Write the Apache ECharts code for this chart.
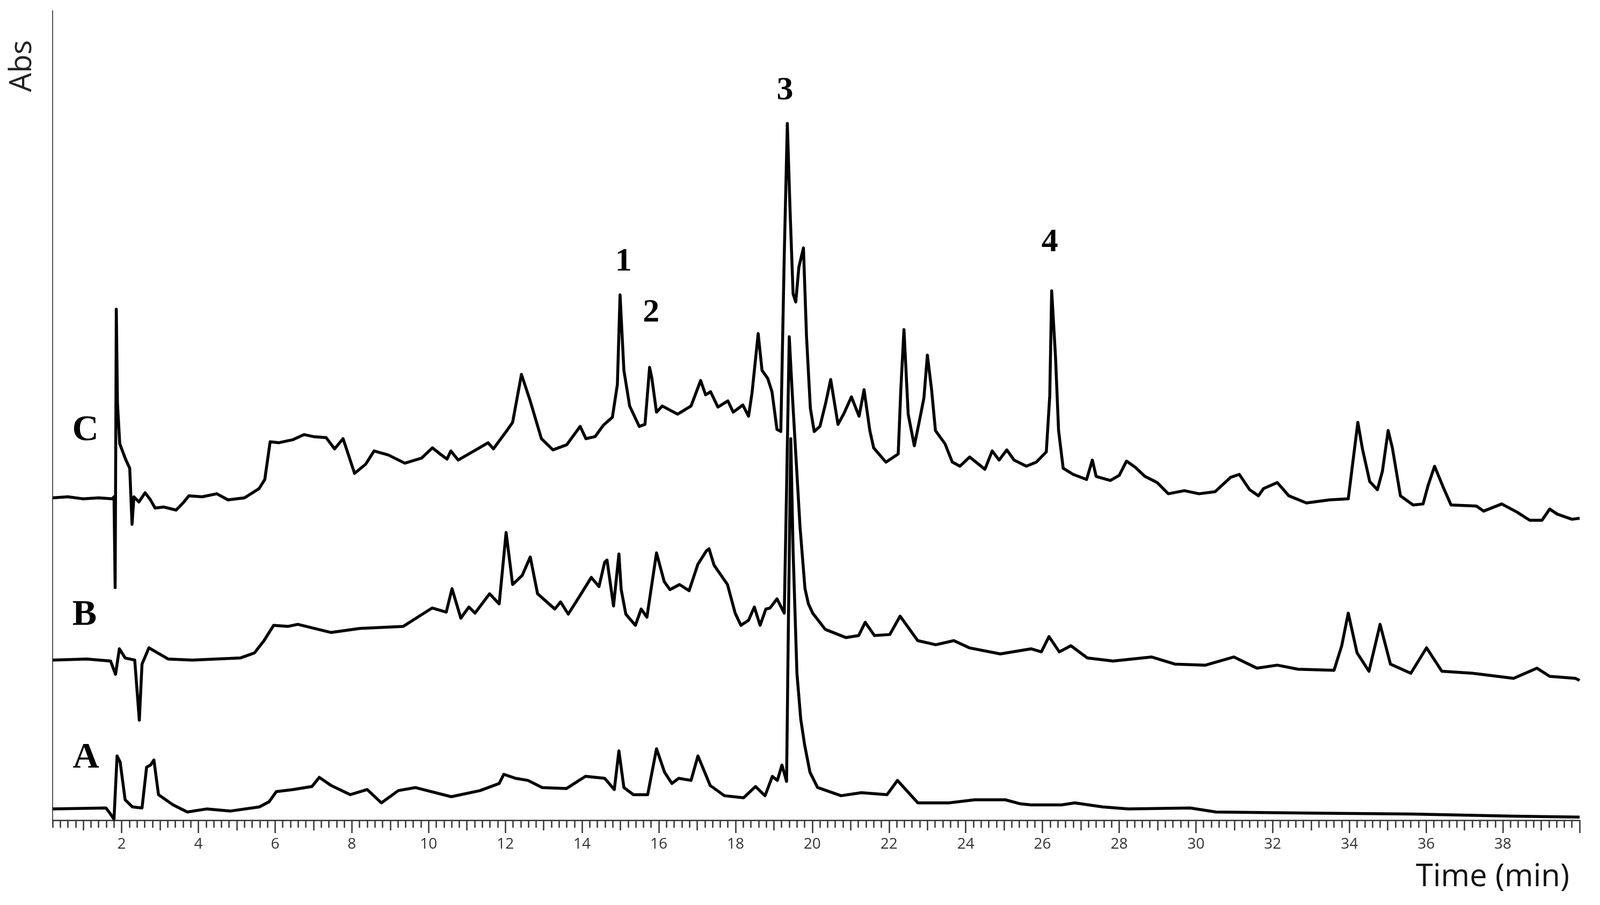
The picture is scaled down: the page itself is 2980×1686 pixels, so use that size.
<!DOCTYPE html>
<html>
<head>
<meta charset="utf-8">
<script src="https://cdn.jsdelivr.net/npm/echarts@6/dist/echarts.min.js"></script>
<style>
html,body{margin:0;padding:0;background:#fff;}
#chart{width:2980px;height:1686px;}
</style>
</head>
<body>
<div id="chart"></div>
<script>
// ---- Data: retention time (min), absorbance (arbitrary units, traces offset) ----
const traceC = [
[0.2,316],[0.6,317],[1.0,315],[1.4,316],[1.75,315],[1.80,317],[1.83,228],[1.86,501],[1.89,409],[1.95,369],
[2.1,354],[2.21,345],[2.27,290],[2.32,317],[2.45,312],[2.61,321],[2.75,314],[2.87,306],[3.1,307],[3.42,304],
[3.6,311],[3.75,318],[4.1,317],[4.48,320],[4.77,314],[5.2,316],[5.58,325],[5.73,334],[5.87,371],[6.09,370],
[6.46,373],[6.75,378],[7.0,376],[7.33,375],[7.55,364],[7.77,374],[8.07,340],[8.36,349],[8.58,362],[8.95,358],
[9.38,350],[9.82,355],[10.1,365],[10.3,359],[10.48,354],[10.58,362],[10.77,353],[11.28,364],[11.55,370],[11.69,364],
[12.04,382],[12.19,390],[12.42,437],[12.64,412],[12.94,374],[13.24,363],[13.6,368],[13.95,386],[14.1,374],[14.34,376],
[14.55,387],[14.79,395],[14.92,427],[14.99,515],[15.09,441],[15.24,406],[15.49,386],[15.64,388],[15.76,444],[15.82,433],
[15.94,400],[16.09,406],[16.49,398],[16.84,406],[17.09,431],[17.22,417],[17.35,420],[17.54,405],[17.8,411],[17.94,400],
[18.19,407],[18.34,396],[18.43,419],[18.59,477],[18.69,441],[18.84,433],[18.95,420],[19.08,383],[19.18,381],[19.27,554],
[19.35,683],[19.42,599],[19.5,516],[19.57,508],[19.65,542],[19.77,561],[19.85,474],[19.95,404],[20.05,381],[20.2,386],
[20.35,409],[20.48,432],[20.67,388],[20.83,399],[21.02,415],[21.22,396],[21.35,422],[21.5,382],[21.6,365],[21.92,351],
[22.24,359],[22.31,424],[22.39,481],[22.5,398],[22.66,367],[22.79,391],[22.91,414],[23.0,456],[23.11,422],[23.21,382],
[23.46,369],[23.65,351],[23.85,347],[24.1,356],[24.5,344],[24.69,362],[24.87,353],[25.07,363],[25.26,353],[25.58,347],
[25.84,351],[26.1,361],[26.19,416],[26.24,519],[26.34,454],[26.42,382],[26.54,345],[26.8,339],[27.15,334],[27.3,353],
[27.4,337],[27.77,333],[28.0,338],[28.19,352],[28.42,346],[28.67,337],[28.99,331],[29.28,320],[29.7,323],[30.08,320],
[30.5,322],[30.9,336],[31.13,339],[31.4,324],[31.63,318],[31.76,325],[32.12,331],[32.42,318],[32.88,311],[33.48,314],
[33.97,315],[34.08,348],[34.22,390],[34.34,364],[34.53,332],[34.73,324],[34.86,342],[35.01,382],[35.12,365],[35.33,318],
[35.66,309],[35.92,310],[36.05,328],[36.22,347],[36.45,326],[36.65,309],[37.31,308],[37.5,303],[37.97,310],[38.37,302],
[38.7,294],[39.02,294],[39.22,305],[39.42,300],[39.8,295],[40.0,296]
];
const traceB = [
[0.2,157],[1.09,158],[1.71,156],[1.84,143],[1.94,168],[2.09,159],[2.34,157],[2.46,98],[2.53,153],[2.71,169],
[3.21,158],[3.84,157],[5.09,159],[5.46,164],[5.71,176],[5.96,191],[6.34,190],[6.59,192],[7.46,184],[8.21,188],
[9.34,190],[9.59,196],[10.09,208],[10.46,204],[10.61,227],[10.84,198],[11.05,209],[11.21,203],[11.59,222],[11.84,212],
[12.02,282],[12.19,231],[12.44,240],[12.65,258],[12.84,222],[13.29,207],[13.44,214],[13.64,202],[13.96,221],[14.24,238],
[14.44,229],[14.59,253],[14.65,255],[14.82,210],[14.96,261],[15.02,226],[15.14,202],[15.39,191],[15.54,207],[15.69,199],
[15.94,262],[16.14,234],[16.29,226],[16.54,231],[16.79,225],[17.02,251],[17.24,264],[17.31,266],[17.44,250],[17.79,231],
[17.99,203],[18.14,191],[18.34,196],[18.49,209],[18.64,191],[18.79,207],[18.9,208],[19.08,217],[19.27,203],[19.33,324],
[19.4,474],[19.47,424],[19.57,359],[19.68,288],[19.81,227],[19.9,212],[20.01,203],[20.34,187],[20.88,179],[21.21,181],
[21.38,194],[21.62,181],[22.02,182],[22.29,200],[22.75,176],[23.22,172],[23.69,176],[24.09,169],[24.9,163],[25.7,168],
[25.97,165],[26.17,180],[26.44,165],[26.74,171],[27.17,159],[27.84,156],[28.84,160],[29.45,153],[30.25,152],[30.99,160],
[31.59,149],[32.12,152],[32.66,148],[33.6,147],[33.8,171],[33.97,203],[34.2,164],[34.51,146],[34.8,192],[35.07,153],
[35.6,144],[36.01,169],[36.41,146],[37.21,144],[38.28,139],[38.89,149],[39.22,141],[39.89,139],[40.0,137]
];
const traceA = [
[0.2,11],[1.59,12],[1.71,6],[1.8,1],[1.88,63],[1.96,57],[2.09,20],[2.28,13],[2.53,12],[2.65,52],
[2.75,54],[2.84,59],[2.96,25],[3.34,15],[3.71,8],[4.21,11],[4.84,9],[5.59,13],[5.84,18],[6.03,28],
[6.46,30],[6.96,33],[7.15,42],[7.46,34],[7.96,25],[8.4,30],[8.77,17],[9.21,29],[9.65,32],[10.59,23],
[11.34,29],[11.84,36],[11.96,45],[12.27,41],[12.59,39],[12.96,32],[13.59,31],[14.09,43],[14.59,41],[14.84,30],
[14.96,68],[15.09,32],[15.34,25],[15.71,25],[15.94,70],[16.15,47],[16.34,36],[16.52,41],[16.84,39],[17.02,63],
[17.34,34],[17.71,24],[18.21,22],[18.52,33],[18.77,24],[18.96,43],[19.09,39],[19.21,54],[19.33,38],[19.38,200],
[19.44,374],[19.5,264],[19.6,144],[19.7,99],[19.8,74],[19.94,47],[20.14,32],[20.75,24],[21.28,27],[21.95,25],
[22.22,39],[22.75,17],[23.56,17],[24.23,20],[25.03,20],[25.43,16],[25.7,15],[26.5,15],[26.84,17],[27.57,13],
[28.24,11],[29.85,12],[30.52,8],[32.93,7],[35.6,6],[38.28,4],[40.0,3]
];
// Trace letters and peak numbers, anchored in data coordinates (time, absorbance)
const annotNames = ['C','B','A','1','2','3','4'];
const annotTimes = [1.055, 1.03, 1.07, 15.08, 15.8, 19.29, 26.19];
const annotAbs   = [382, 201, 61, 547, 497, 715, 566];
// Axis ticks
const tickLabels = [2,4,6,8,10,12,14,16,18,20,22,24,26,28,30,32,34,36,38];
const majorTicks = [2,4,6,8,10,12,14,16,18,20,22,24,26,28,30,32,34,36,38,40];
const midTicks = [1,3,5,7,9,11,13,15,17,19,21,23,25,27,29,31,33,35,37,39];
const minorTicks = [];
for (let i = 1; i < 200; i++) { if (i % 5 !== 0) minorTicks.push(Math.round(i * 2) / 10); }

const X_MIN = 0.2, X_MAX = 40, Y_MAX = 793.5;

const chart = echarts.init(document.getElementById('chart'), null, {renderer: 'canvas'});

function tickAxis(values, len, showLine, labels) {
  return {
    type: 'value', gridIndex: 0, min: X_MIN, max: X_MAX, position: 'bottom',
    axisLine: {show: showLine, onZero: false, lineStyle: {color: '#333', width: 2.5}},
    axisTick: {show: true, inside: false, length: len, customValues: values, lineStyle: {color: '#333', width: 2.5}},
    axisLabel: labels ? {show: true, customValues: labels, margin: 31, fontSize: 28, color: '#333', fontFamily: 'Open Sans'} : {show: false},
    splitLine: {show: false}
  };
}

const lineStyle = {color: '#000', width: 5.5, join: 'round'};
const option = {
  animation: false,
  backgroundColor: '#fff',
  grid: {left: 98, right: 38, top: 20, bottom: 158, containLabel: false},
  xAxis: [
    tickAxis(majorTicks, 24, true, tickLabels),
    tickAxis(midTicks, 19, false, null),
    tickAxis(minorTicks, 14, false, null)
  ],
  yAxis: {
    type: 'value', min: 0, max: Y_MAX,
    axisLine: {show: true, onZero: false, lineStyle: {color: '#555', width: 2}},
    axisTick: {show: false}, axisLabel: {show: false}, splitLine: {show: false}
  },
  series: [
    {name: 'C', type: 'line', data: traceC, showSymbol: false, lineStyle: lineStyle, z: 3},
    {name: 'B', type: 'line', data: traceB, showSymbol: false, lineStyle: lineStyle, z: 3},
    {name: 'A', type: 'line', data: traceA, showSymbol: false, lineStyle: lineStyle, z: 3},
    {
      name: 'labels', type: 'scatter', symbolSize: 0, itemStyle: {color: '#000', opacity: 1}, z: 5,
      data: annotNames.map((n, i) => ({
        name: n, value: [annotTimes[i], annotAbs[i]],
        label: {fontSize: /[A-Z]/.test(n) ? 68 : 62}
      })),
      label: {
        show: true, position: 'inside', formatter: p => p.name, opacity: 1,
        fontFamily: 'Liberation Serif', fontWeight: 'bold', color: '#000',
        textBorderWidth: 0
      }
    }
  ],
  graphic: [
    {type: 'text', x: 2923, y: 1634, style: {text: 'Time (min)', fontFamily: 'Open Sans', fontSize: 58, fill: '#111', textAlign: 'right', textVerticalAlign: 'middle'}},
    {type: 'text', x: 42, y: 123, rotation: Math.PI / 2, style: {text: 'Abs', fontFamily: 'Open Sans', fontSize: 56, fill: '#222', textAlign: 'center', textVerticalAlign: 'middle'}}
  ]
};
chart.setOption(option);
</script>
</body>
</html>
